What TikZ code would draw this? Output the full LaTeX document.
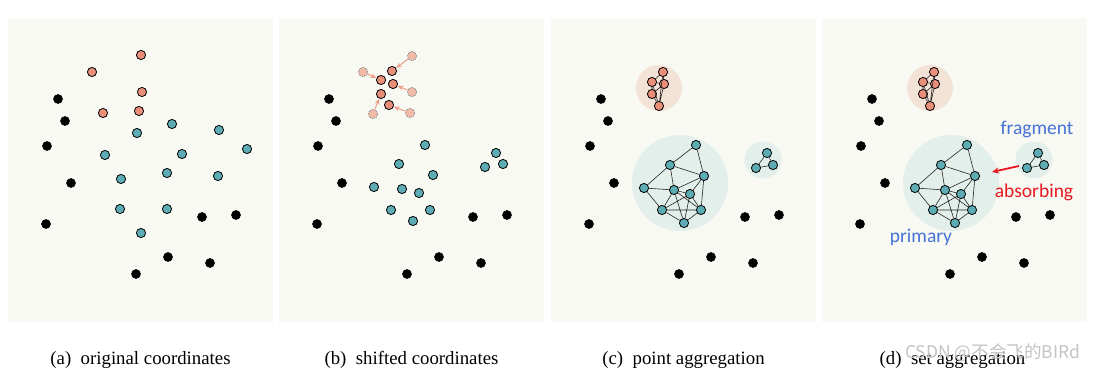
\documentclass[tikz,border=0pt]{standalone}
\usepackage{fontspec}
\setmainfont{Liberation Serif}
\newfontfamily\calfont{Carlito}
\newfontfamily\cjkfont{Noto Sans CJK SC}
\usetikzlibrary{arrows.meta}
\definecolor{panelbg}{HTML}{F8F9F2}
\definecolor{orgfill}{HTML}{E98E78}
\definecolor{telfill}{HTML}{5DACB4}
\definecolor{ghostfill}{HTML}{F2BBA7}
\definecolor{arrowc}{HTML}{EE9F89}
\definecolor{halopink}{HTML}{F3E2D6}
\definecolor{haloteal}{HTML}{E2EFEA}
\definecolor{labblue}{HTML}{4472D6}
\definecolor{labred}{HTML}{E81820}
\definecolor{wmgray}{HTML}{C4C4C4}

\newcommand\blackdots{%
  \foreach \p [count=\i] in {(50,99),(57,121),(39,146),(63,183),(38,224),(194,217),(228,215),(160,257),(202,263),(128,274)}
    \node[blk] (k\i) at \p {};}

\newcommand\aggpanel{%
  \blackdots
  \node[halo,fill=halopink,minimum size=46pt] (hp) at (108,88) {};
  \node[halo,fill=haloteal,minimum size=96pt] (ht) at (129,183) {};
  \node[halo,fill=haloteal,minimum size=37pt] (hs) at (212,160) {};
  \node[org] (o1) at (112,72) {};
  \node[org] (o2) at (101,82) {};
  \node[org] (o3) at (113,84) {};
  \node[org] (o4) at (101,94) {};
  \node[org] (o5) at (108,106) {};
  \draw[edge] (o1)--(o2) (o1)--(o3) (o2)--(o3) (o2)--(o4) (o3)--(o4)
              (o4)--(o5) (o3)--(o5) (o1)--(o5) (o2)--(o5);
  \node[tel] (A) at (145,145) {};
  \node[tel] (B) at (119,165) {};
  \node[tel] (C) at (153,176) {};
  \node[tel] (D) at (93,188) {};
  \node[tel] (E) at (123,190) {};
  \node[tel] (F) at (139,194) {};
  \node[tel] (G) at (111,210) {};
  \node[tel] (H) at (150,210) {};
  \node[tel] (I) at (133,223) {};
  \draw[edge] (A)--(B) (A)--(C) (B)--(C) (B)--(D) (B)--(E) (C)--(E) (C)--(F)
              (C)--(H) (D)--(E) (D)--(G) (E)--(G) (E)--(F) (E)--(H) (E)--(I)
              (F)--(G) (F)--(H) (F)--(I) (G)--(H) (G)--(I) (H)--(I);
  \node[tel] (s1) at (216,153) {};
  \node[tel] (s2) at (205,168) {};
  \node[tel] (s3) at (222,165) {};
  \draw[edge] (s1)--(s2) (s2)--(s3) (s3)--(s1);}

\begin{document}
\begin{tikzpicture}[x=1pt,y=-1pt,
  dotbase/.style={circle,inner sep=0pt,minimum size=9.2pt,line width=0.8pt},
  blk/.style={dotbase,fill=black,draw=black,minimum size=8.8pt},
  org/.style={dotbase,fill=orgfill,draw=black},
  tel/.style={dotbase,fill=telfill,draw=black},
  ghost/.style={dotbase,fill=ghostfill,draw=black!45,dash pattern=on 1.2pt off 1pt},
  halo/.style={circle,inner sep=0pt,draw=none},
  edge/.style={line width=0.6pt,black!85},
  shiftarrow/.style={draw=arrowc,line width=1pt,-{Stealth[length=6pt,width=5pt]}},
  absorb/.style={draw=labred,line width=1.8pt,-{Stealth[length=7pt,width=6pt]}},
  panel/.style={fill=panelbg,draw=none,inner sep=0pt,minimum width=265pt,minimum height=304pt,anchor=north west},
  captext/.style={font=\fontsize{18.8}{20}\selectfont,anchor=base},
  lab/.style={font=\calfont\fontsize{19.5}{22}\selectfont,anchor=base}]
\useasboundingbox (0,0) rectangle (1110,374);
\fill[white] (0,0) rectangle (1110,374);
\node[panel] (pa) at (8,18) {};
\node[panel] (pb) at (279,18) {};
\node[panel] (pc) at (551,18) {};
\node[panel] (pd) at (822,18) {};

% (a) original coordinates
\begin{scope}[xshift=8pt,name prefix=a-]
  \blackdots
  \foreach \p [count=\i] in {(133,55),(84,72),(134,92),(95,113),(131,111)}
    \node[org] (o\i) at \p {};
  \foreach \p [count=\i] in {(164,124),(129,133),(211,130),(239,149),(97,155),(174,154),(159,173),(113,179),(210,176),(112,209),(159,209),(133,233)}
    \node[tel] (t\i) at \p {};
\end{scope}

% (b) shifted coordinates
\begin{scope}[xshift=279pt,name prefix=b-]
  \blackdots
  \foreach \p [count=\i] in {(133,56),(84,72),(133,92),(94,114),(131,113)}
    \node[ghost] (g\i) at \p {};
  \foreach \p [count=\i] in {(113,71),(102,80),(114,84),(102,94),(110,105)}
    \node[org] (o\i) at \p {};
  \foreach \i in {1,...,5}
    \draw[shiftarrow] (g\i) -- (o\i);
  \foreach \p [count=\i] in {(146,145),(120,164),(154,175),(95,187),(123,189),(140,193),(112,210),(151,210),(134,221),(217,153),(206,167),(224,164)}
    \node[tel] (t\i) at \p {};
\end{scope}

% (c) point aggregation
\begin{scope}[xshift=551pt,name prefix=c-]
  \aggpanel
\end{scope}

% (d) set aggregation
\begin{scope}[xshift=822pt,name prefix=d-]
  \aggpanel
  \node[lab,text=labblue] (frag) at (215,135) {fragment};
  \node[lab,text=labred] (abs) at (212,197) {absorbing};
  \node[lab,text=labblue] (prim) at (99,242) {primary};
  \coordinate (atail) at (197,166);
  \coordinate (ahead) at (170,172);
  \draw[absorb] (atail) -- (ahead);
\end{scope}

% captions
\node[captext] (ca) at (140.5,364) {(a)\ \ original coordinates};
\node[captext] (cb) at (411.5,364) {(b)\ \ shifted coordinates};
\node[captext] (cc) at (683.5,364) {(c)\ \ point aggregation};
\node[captext] (cd) at (952.5,364) {(d)\ \ set aggregation};
\node[anchor=west,text=wmgray,font=\cjkfont\fontsize{17.5}{17.5}\selectfont,inner sep=0pt] (wm) at (905,353) {CSDN @不会飞的BIRd};
\end{tikzpicture}
\end{document}
